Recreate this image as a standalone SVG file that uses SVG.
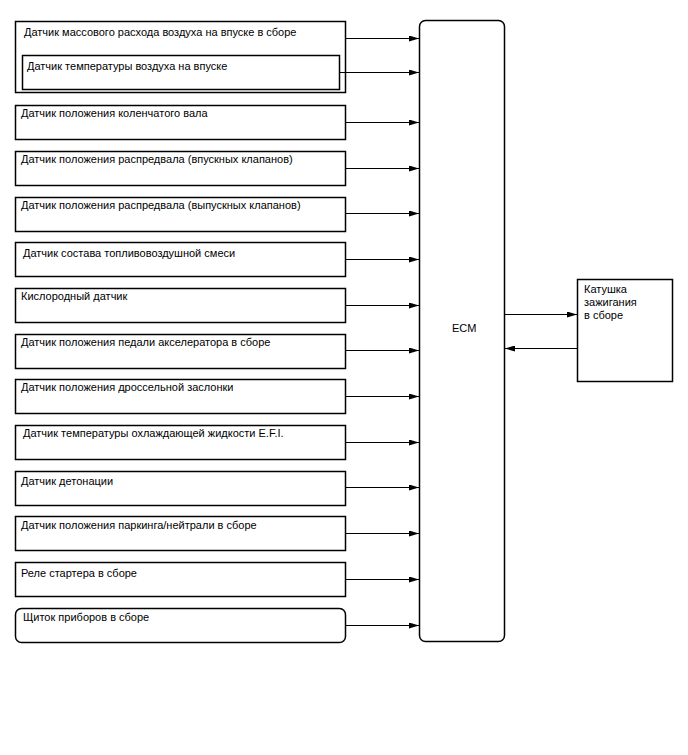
<svg xmlns="http://www.w3.org/2000/svg" width="688" height="755" viewBox="0 0 688 755">
<style>
.box{fill:#fff;stroke:#000;stroke-width:1.5}
.t{font-family:"Liberation Sans",Arial,sans-serif;font-size:11px;fill:#000}
.c{stroke:#000;stroke-width:1;fill:none;marker-end:url(#ah)}
</style>
<defs>
<marker id="ah" viewBox="0 0 10 6" refX="10" refY="3" markerWidth="10" markerHeight="6" markerUnits="userSpaceOnUse" orient="auto">
<path d="M0,0 L10,3 L0,6 Z" fill="#000"/>
</marker>
</defs>
<rect width="688" height="755" fill="#fff"/>
<g id="maf"><rect class="box" x="15.5" y="21.5" width="330" height="71"/><text class="t" x="24" y="36">Датчик массового расхода воздуха на впуске в сборе</text></g>
<g id="iat"><rect class="box" x="22.5" y="55.5" width="317" height="34"/><text class="t" x="27" y="70">Датчик температуры воздуха на впуске</text></g>
<g id="ckp"><rect class="box" x="15.5" y="105.5" width="330" height="34"/><text class="t" x="21" y="117">Датчик положения коленчатого вала</text></g>
<g id="cmp-in"><rect class="box" x="15.5" y="151.5" width="330" height="34"/><text class="t" x="21" y="163">Датчик положения распредвала (впускных клапанов)</text></g>
<g id="cmp-ex"><rect class="box" x="15.5" y="197.5" width="330" height="34"/><text class="t" x="21" y="209">Датчик положения распредвала (выпускных клапанов)</text></g>
<g id="af"><rect class="box" x="15.5" y="242.5" width="330" height="34"/><text class="t" x="23" y="257">Датчик состава топливовоздушной смеси</text></g>
<g id="o2"><rect class="box" x="15.5" y="288.5" width="330" height="34"/><text class="t" x="21" y="300">Кислородный датчик</text></g>
<g id="app"><rect class="box" x="15.5" y="334.5" width="330" height="34"/><text class="t" x="21" y="346">Датчик положения педали акселератора в сборе</text></g>
<g id="tp"><rect class="box" x="15.5" y="379.5" width="330" height="34"/><text class="t" x="21" y="391">Датчик положения дроссельной заслонки</text></g>
<g id="ect"><rect class="box" x="15.5" y="425.5" width="330" height="34"/><text class="t" x="23" y="437">Датчик температуры охлаждающей жидкости E.F.I.</text></g>
<g id="ks"><rect class="box" x="15.5" y="471.5" width="330" height="34"/><text class="t" x="21" y="485">Датчик детонации</text></g>
<g id="pnp"><rect class="box" x="15.5" y="516.5" width="330" height="34"/><text class="t" x="21" y="529">Датчик положения паркинга/нейтрали в сборе</text></g>
<g id="st"><rect class="box" x="15.5" y="562.5" width="330" height="34"/><text class="t" x="21" y="577">Реле стартера в сборе</text></g>
<g id="meter"><rect class="box" x="15.5" y="608.5" width="330" height="34" rx="6"/><text class="t" x="23" y="621">Щиток приборов в сборе</text></g>
<g id="ecm"><rect class="box" x="419.5" y="20.5" width="85" height="621" rx="6"/><text class="t" x="452" y="332">ECM</text></g>
<g id="coil"><rect class="box" x="577.5" y="279.5" width="95" height="102"/><text class="t" x="584" y="293">Катушка</text><text class="t" x="584" y="306">зажигания</text><text class="t" x="584" y="319">в сборе</text></g>
<g id="connectors">
<line class="c" x1="346" y1="38.5" x2="419" y2="38.5"/>
<line class="c" x1="340" y1="72.5" x2="419" y2="72.5"/>
<line class="c" x1="346" y1="122.5" x2="419" y2="122.5"/>
<line class="c" x1="346" y1="168.5" x2="419" y2="168.5"/>
<line class="c" x1="346" y1="213.5" x2="419" y2="213.5"/>
<line class="c" x1="346" y1="259.5" x2="419" y2="259.5"/>
<line class="c" x1="346" y1="305.5" x2="419" y2="305.5"/>
<line class="c" x1="346" y1="350.5" x2="419" y2="350.5"/>
<line class="c" x1="346" y1="396.5" x2="419" y2="396.5"/>
<line class="c" x1="346" y1="442.5" x2="419" y2="442.5"/>
<line class="c" x1="346" y1="487.5" x2="419" y2="487.5"/>
<line class="c" x1="346" y1="533.5" x2="419" y2="533.5"/>
<line class="c" x1="346" y1="579.5" x2="419" y2="579.5"/>
<line class="c" x1="346" y1="625.5" x2="419" y2="625.5"/>
<line class="c" x1="505" y1="314.5" x2="577" y2="314.5"/>
<line class="c" x1="577" y1="348.5" x2="505" y2="348.5"/>
</g>
</svg>
